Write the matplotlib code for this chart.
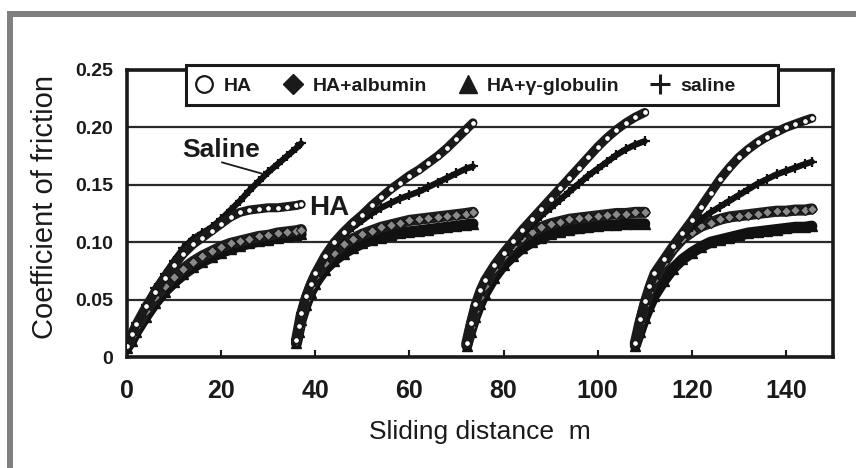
import matplotlib
matplotlib.use("Agg")
import matplotlib.pyplot as plt
from matplotlib.lines import Line2D
from matplotlib.patches import Rectangle

plt.rcParams['font.family'] = ['Liberation Sans', 'DejaVu Sans']

# ---------------- data ----------------
run1_x        = [0, 1, 2, 4, 6, 8, 10, 12, 14, 16, 18, 20, 22, 24, 26, 28, 30, 32, 34, 36, 37]
run1_saline   = [0.010, 0.020, 0.030, 0.045, 0.060, 0.072, 0.084, 0.095, 0.103, 0.108, 0.113, 0.120, 0.128, 0.136, 0.145, 0.153, 0.161, 0.168, 0.175, 0.182, 0.186]
run1_HA       = [0.010, 0.020, 0.029, 0.044, 0.057, 0.069, 0.080, 0.090, 0.098, 0.104, 0.110, 0.116, 0.122, 0.126, 0.128, 0.129, 0.130, 0.130, 0.131, 0.132, 0.133]
run1_albumin  = [0.010, 0.018, 0.026, 0.040, 0.052, 0.062, 0.070, 0.077, 0.083, 0.088, 0.092, 0.096, 0.099, 0.101, 0.103, 0.105, 0.106, 0.108, 0.109, 0.110, 0.111]
run1_globulin = [0.008, 0.014, 0.022, 0.035, 0.047, 0.057, 0.065, 0.072, 0.078, 0.083, 0.087, 0.091, 0.094, 0.097, 0.099, 0.101, 0.102, 0.104, 0.105, 0.106, 0.107]

run2_x        = [36, 36.5, 37, 38, 39, 40, 42, 44, 46, 48, 50, 52, 54, 56, 58, 60, 62, 64, 66, 68, 70, 72, 73.5]
run2_HA       = [0.015, 0.027, 0.038, 0.053, 0.064, 0.073, 0.088, 0.100, 0.109, 0.117, 0.124, 0.132, 0.139, 0.146, 0.152, 0.158, 0.163, 0.169, 0.175, 0.182, 0.190, 0.198, 0.204]
run2_saline   = [0.015, 0.027, 0.038, 0.052, 0.063, 0.072, 0.086, 0.097, 0.106, 0.113, 0.119, 0.125, 0.130, 0.134, 0.138, 0.141, 0.144, 0.148, 0.152, 0.156, 0.160, 0.164, 0.166]
run2_albumin  = [0.014, 0.025, 0.036, 0.050, 0.061, 0.070, 0.082, 0.091, 0.098, 0.103, 0.107, 0.110, 0.113, 0.115, 0.117, 0.119, 0.120, 0.121, 0.122, 0.123, 0.124, 0.125, 0.126]
run2_globulin = [0.012, 0.022, 0.032, 0.045, 0.056, 0.064, 0.076, 0.084, 0.090, 0.095, 0.099, 0.102, 0.104, 0.106, 0.108, 0.109, 0.110, 0.111, 0.112, 0.113, 0.114, 0.115, 0.116]

run3_x        = [72.2, 73, 74, 75, 76, 78, 80, 82, 84, 86, 88, 90, 92, 94, 96, 98, 100, 102, 104, 106, 108, 110]
run3_HA       = [0.012, 0.030, 0.046, 0.058, 0.067, 0.080, 0.091, 0.101, 0.111, 0.120, 0.129, 0.138, 0.147, 0.156, 0.165, 0.174, 0.183, 0.191, 0.198, 0.204, 0.209, 0.213]
run3_saline   = [0.012, 0.029, 0.044, 0.056, 0.065, 0.078, 0.089, 0.098, 0.106, 0.115, 0.123, 0.130, 0.137, 0.144, 0.151, 0.158, 0.164, 0.170, 0.176, 0.181, 0.185, 0.188]
run3_albumin  = [0.012, 0.026, 0.040, 0.052, 0.062, 0.077, 0.088, 0.097, 0.104, 0.109, 0.113, 0.116, 0.118, 0.120, 0.121, 0.122, 0.123, 0.124, 0.125, 0.125, 0.126, 0.126]
run3_globulin = [0.010, 0.022, 0.035, 0.046, 0.055, 0.069, 0.080, 0.088, 0.095, 0.100, 0.104, 0.107, 0.109, 0.111, 0.112, 0.113, 0.114, 0.115, 0.115, 0.116, 0.116, 0.116]

run4_x        = [108, 109, 110, 111, 112, 114, 116, 118, 120, 122, 124, 126, 128, 130, 132, 134, 136, 138, 140, 142, 144, 145.5]
run4_HA       = [0.012, 0.033, 0.049, 0.062, 0.073, 0.085, 0.097, 0.108, 0.119, 0.131, 0.143, 0.155, 0.165, 0.174, 0.181, 0.187, 0.192, 0.196, 0.200, 0.203, 0.206, 0.208]
run4_saline   = [0.012, 0.031, 0.046, 0.058, 0.069, 0.083, 0.095, 0.105, 0.113, 0.120, 0.126, 0.131, 0.136, 0.141, 0.146, 0.151, 0.155, 0.159, 0.162, 0.165, 0.168, 0.170]
run4_albumin  = [0.012, 0.030, 0.045, 0.057, 0.067, 0.082, 0.094, 0.103, 0.109, 0.114, 0.117, 0.120, 0.122, 0.123, 0.124, 0.125, 0.126, 0.127, 0.127, 0.128, 0.128, 0.129]
run4_globulin = [0.010, 0.022, 0.034, 0.044, 0.053, 0.066, 0.077, 0.085, 0.091, 0.096, 0.100, 0.102, 0.104, 0.106, 0.108, 0.109, 0.110, 0.111, 0.112, 0.113, 0.113, 0.114]

legend_labels = ['HA', 'HA+albumin', 'HA+\u03b3-globulin', 'saline']
x_ticks = [0, 20, 40, 60, 80, 100, 120, 140]
y_ticks = [0, 0.05, 0.10, 0.15, 0.20, 0.25]
y_tick_labels = ['0', '0.05', '0.10', '0.15', '0.20', '0.25']

runs = [
    (run1_x, run1_HA, run1_albumin, run1_globulin, run1_saline),
    (run2_x, run2_HA, run2_albumin, run2_globulin, run2_saline),
    (run3_x, run3_HA, run3_albumin, run3_globulin, run3_saline),
    (run4_x, run4_HA, run4_albumin, run4_globulin, run4_saline),
]

# ---------------- figure ----------------
fig = plt.figure(figsize=(8.56, 4.68), dpi=100)
fig.patch.set_facecolor('white')

# grey frame of the scan (top and left bands)
W, H = 856.0, 468.0
fig.patches.append(Rectangle((7 / W, 0), 6 / W, 1 - 11 / H, transform=fig.transFigure,
                             facecolor='#808080', edgecolor='none', zorder=0))
fig.patches.append(Rectangle((7 / W, 1 - 17 / H), 1 - 7 / W, 6 / H, transform=fig.transFigure,
                             facecolor='#808080', edgecolor='none', zorder=0))

ax = fig.add_axes([127 / W, 1 - 357 / H, (833 - 127) / W, (357 - 70) / H])
ax.set_xlim(0, 150)
ax.set_ylim(0, 0.25)

for x, ha, alb, glob, sal in runs:
    ax.plot(x, glob, color='#111111', lw=8, solid_capstyle='round', zorder=3,
            marker='^', ms=7, mfc='#111111', mec='#111111')
    ax.plot(x, alb, color='#1e1e1e', lw=8, solid_capstyle='round', zorder=3,
            marker='D', ms=5, mfc='#8a8a8a', mec='#111111', mew=0.8)
    ax.plot(x, sal, color='#111111', lw=4.5, solid_capstyle='round', zorder=4,
            marker='+', ms=7, mew=1.6, mec='#111111')
    ax.plot(x, ha, color='#1a1a1a', lw=6.5, solid_capstyle='round', zorder=5,
            marker='o', ms=4.2, mfc='white', mec='#111111', mew=0.8)

# grid and spines
ax.set_axisbelow(True)
ax.yaxis.grid(True, color='#2a2a2a', lw=1.6)
for s in ax.spines.values():
    s.set_linewidth(2.6)
    s.set_color('#1a1a1a')

ax.set_xticks(x_ticks)
ax.set_xticklabels([str(t) for t in x_ticks])
ax.set_yticks(y_ticks)
ax.set_yticklabels(y_tick_labels)
ax.tick_params(axis='x', direction='in', length=5, width=1.5, pad=16,
               labelsize=18, colors='#1a1a1a')
ax.tick_params(axis='y', length=0, pad=10, labelsize=14, colors='#1a1a1a')
for lab in ax.get_yticklabels():
    lab.set_fontweight('bold')
for lab in ax.get_xticklabels():
    lab.set_fontweight('bold')

ax.set_xlabel('Sliding distance  m', fontsize=19, labelpad=12, color='#1a1a1a')
fig.text(45 / W, 1 - 207 / H, 'Coefficient of friction', rotation=90, fontsize=21,
         ha='center', va='center', color='#1a1a1a')

# annotations
ax.text(11.7, 0.174, 'Saline', fontsize=19, fontweight='bold', ha='left',
        va='baseline', color='#1a1a1a')
ax.plot([20.2, 29.3], [0.1695, 0.159], color='#1a1a1a', lw=1.3, zorder=6)
ax.text(38.6, 0.124, 'HA', fontsize=20, fontweight='bold', ha='left',
        va='baseline', color='#1a1a1a')

# legend box and entries
ax.add_patch(Rectangle((0.0835, 0.8775), 0.838, 0.14, transform=ax.transAxes,
                       facecolor='white', edgecolor='#1a1a1a', lw=2.2,
                       clip_on=False, zorder=7))
handles = [
    Line2D([], [], ls='none', marker='o', ms=12, mfc='white', mec='#1a1a1a', mew=1.6),
    Line2D([], [], ls='none', marker='D', ms=10, mfc='#1a1a1a', mec='#1a1a1a'),
    Line2D([], [], ls='none', marker='^', ms=13, mfc='#1a1a1a', mec='#1a1a1a'),
    Line2D([], [], ls='none', marker='+', ms=15, mec='#1a1a1a', mew=2.2),
]
leg = ax.legend(handles, legend_labels, ncol=4, loc='center left',
                bbox_to_anchor=(0.096, 0.945), frameon=False, borderpad=0,
                borderaxespad=0, handlelength=1.0, handletextpad=0.5,
                columnspacing=1.6, prop={'size': 14, 'weight': 'bold'})
leg.set_zorder(8)
for t in leg.get_texts():
    t.set_color('#1a1a1a')

fig.savefig('out.png', dpi=100, facecolor='white')
